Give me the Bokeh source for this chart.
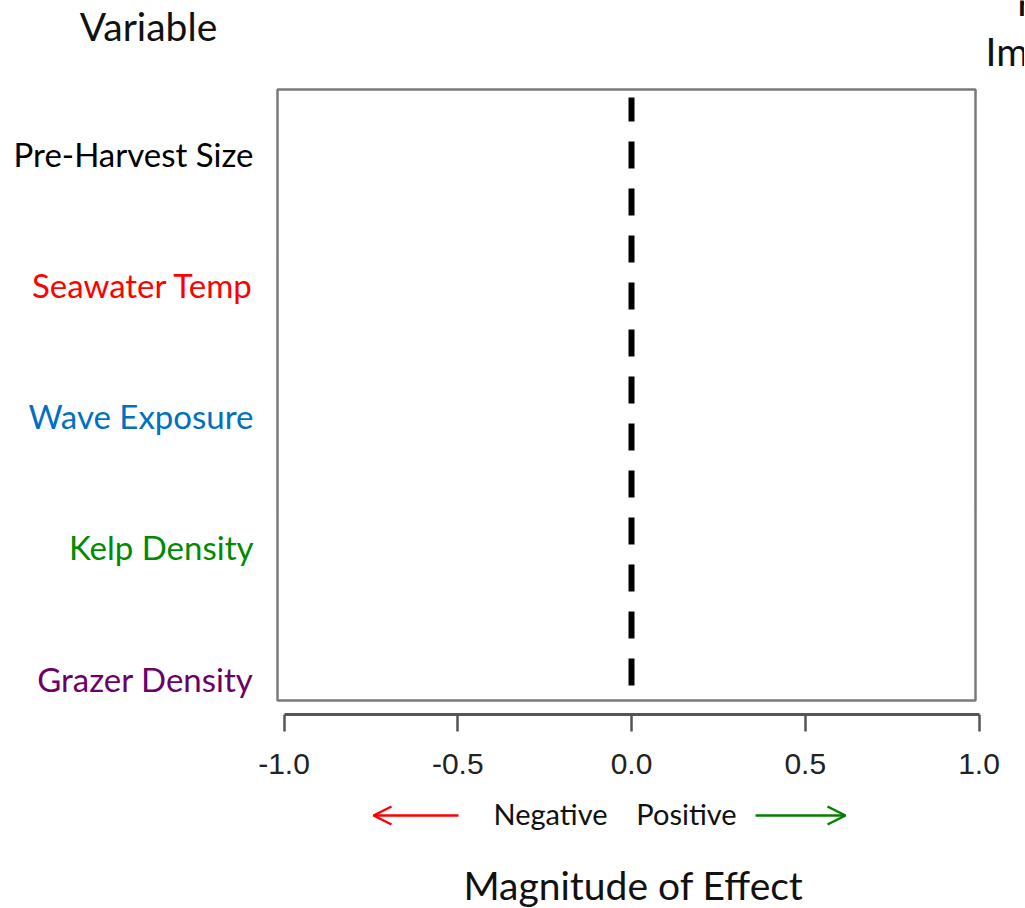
from bokeh.plotting import figure
from bokeh.models import (ColumnDataSource, BoxAnnotation, LinearAxis,
                          FixedTicker, Range1d, Arrow, OpenHead)
from bokeh.layouts import column
from bokeh.embed import file_html
from bokeh.resources import INLINE
from bokeh.core.properties import value

# ---- data ----
variables = ["Pre-Harvest Size", "Seawater Temp", "Wave Exposure", "Kelp Density", "Grazer Density"]
variable_colors = ["#000000", "#ff0000", "#0070c0", "#008a00", "#6b006b"]
variable_pos = [5, 4, 3, 2, 1]
x_ticks = [-1.0, -0.5, 0.0, 0.5, 1.0]
x_tick_labels = ["-1.0", "-0.5", "0.0", "0.5", "1.0"]
null_effect = [0.0]
direction_labels = ["Negative", "Positive"]

# ---- layout constants (pixels) ----
W = 1024
PXX = 347.5            # px per x unit
X0 = 631               # px of x = 0
PXY = 131.25           # px per y unit
FRAME_BOTTOM = 714
TOP_H = 785
BOT_H = 122

def xd(px):
    return (px - X0) / PXX

def yd(py):
    return 1 + (678 - py) / PXY

x_range = Range1d(xd(0), xd(W))

# ---- main figure ----
p = figure(width=W, height=TOP_H, output_backend="svg", toolbar_location=None,
           x_range=x_range, y_range=Range1d(yd(FRAME_BOTTOM), yd(0)),
           min_border_left=0, min_border_right=0, min_border_top=0,
           min_border_bottom=TOP_H - FRAME_BOTTOM,
           x_axis_location=None, y_axis_location=None)
p.outline_line_color = None
p.grid.visible = False
p.background_fill_color = "white"
p.border_fill_color = "white"

# plot box
box = BoxAnnotation(left=xd(277), right=xd(975), bottom=yd(700), top=yd(89),
                    fill_color=None, fill_alpha=0, line_color="#7a7a7a",
                    line_alpha=1.0, line_width=2.5)
p.add_layout(box)

# dashed zero line
src0 = ColumnDataSource(dict(x=null_effect, y0=[yd(685)], y1=[yd(97)]))
p.segment(x0="x", x1="x", y0="y0", y1="y1", source=src0, line_color="black",
          line_width=6, line_dash="27 20")

# x axis
ax = LinearAxis(ticker=FixedTicker(ticks=x_ticks), bounds=(-1.0, 1.0))
ax.major_label_overrides = {t: l for t, l in zip(x_ticks, x_tick_labels)}
ax.axis_line_color = "#555555"
ax.axis_line_width = 3
ax.major_tick_line_color = "#555555"
ax.major_tick_line_width = 2.5
ax.major_tick_in = 0
ax.major_tick_out = 17
ax.minor_tick_line_color = None
ax.major_label_text_font = "Liberation Sans"
ax.major_label_text_font_size = "30px"
ax.major_label_text_color = "#222222"
ax.major_label_standoff = 22
p.add_layout(ax, "below")

# variable labels
lsrc = ColumnDataSource(dict(x=[xd(253)] * len(variables), y=variable_pos,
                             text=variables, color=variable_colors))
p.text(x="x", y="y", text="text", source=lsrc, text_color="color",
       text_font=value("Lato"), text_font_size="33px",
       text_align="right", text_baseline="middle")

# header labels
hsrc = ColumnDataSource(dict(x=[xd(148)], y=[yd(25)], text=["Variable"]))
p.text(x="x", y="y", text="text", source=hsrc, text_color="#111111",
       text_font=value("Lato"), text_font_size="39px",
       text_align="center", text_baseline="middle")
rsrc = ColumnDataSource(dict(x=[xd(1016), xd(985)], y=[yd(0), yd(50)],
                             text=["Relative", "Importance"]))
p.text(x="x", y="y", text="text", source=rsrc, text_color="#111111",
       text_font=value("Lato"), text_font_size="39px",
       text_align="left", text_baseline="middle")

# ---- bottom figure (direction arrows, axis title) ----
q = figure(width=W, height=BOT_H, output_backend="svg", toolbar_location=None,
           x_range=x_range, y_range=Range1d(-BOT_H, 0),
           min_border_left=0, min_border_right=0, min_border_top=0, min_border_bottom=0,
           x_axis_location=None, y_axis_location=None)
q.outline_line_color = None
q.grid.visible = False
q.background_fill_color = "white"
q.border_fill_color = "white"

def yb(py):
    return -(py - TOP_H)

q.add_layout(Arrow(x_start=xd(458), x_end=xd(373), y_start=yb(815), y_end=yb(815),
                   line_color="#ff0000", line_width=2.5,
                   end=OpenHead(size=18, line_color="#ff0000", line_width=2.5)))
q.add_layout(Arrow(x_start=xd(755), x_end=xd(845), y_start=yb(815), y_end=yb(815),
                   line_color="#008000", line_width=2.5,
                   end=OpenHead(size=18, line_color="#008000", line_width=2.5)))

dsrc = ColumnDataSource(dict(x=[xd(550), xd(686)], y=[yb(813), yb(813)], text=direction_labels))
q.text(x="x", y="y", text="text", source=dsrc, text_color="#111111",
       text_font=value("Lato"), text_font_size="29px",
       text_align="center", text_baseline="middle")

msrc = ColumnDataSource(dict(x=[xd(633)], y=[yb(884)], text=["Magnitude of Effect"]))
q.text(x="x", y="y", text="text", source=msrc, text_color="#111111",
       text_font=value("Lato"), text_font_size="39px",
       text_align="center", text_baseline="middle")

layout = column(p, q, spacing=0)
open("out.html", "w").write(file_html(layout, INLINE))
